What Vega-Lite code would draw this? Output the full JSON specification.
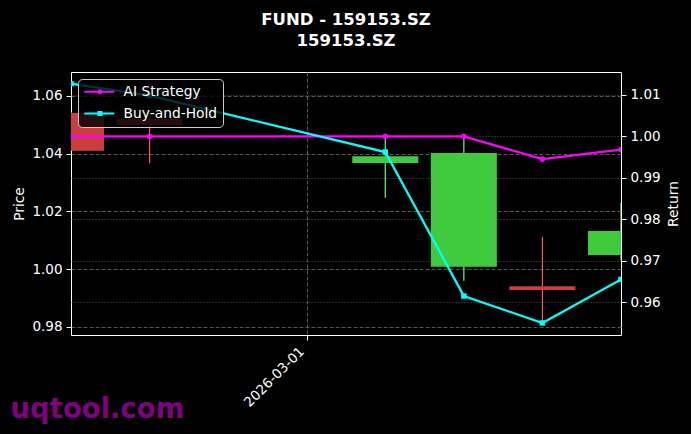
{
  "$schema": "https://vega.github.io/schema/vega-lite/v6.json",
  "width": 550,
  "height": 263,
  "autosize": {"type": "none"},
  "padding": {"left": 71, "top": 72, "right": 70, "bottom": 99},
  "background": "black",
  "title": {
    "text": ["FUND - 159153.SZ", "159153.SZ"],
    "color": "white",
    "font": "DejaVu Sans",
    "fontSize": 16.5,
    "fontWeight": "bold",
    "lineHeight": 21,
    "anchor": "middle",
    "offset": 23
  },
  "datasets": {
    "candles": [
      {"date": "2026-02-26", "open": 1.0541, "high": 1.0545, "low": 1.0410, "close": 1.0410},
      {"date": "2026-02-27", "open": 1.0520, "high": 1.0525, "low": 1.0367, "close": 1.0499},
      {"date": "2026-03-02", "open": 1.0368, "high": 1.0453, "low": 1.0247, "close": 1.0391},
      {"date": "2026-03-03", "open": 1.0008, "high": 1.0460, "low": 0.9960, "close": 1.0402},
      {"date": "2026-03-04", "open": 0.9941, "high": 1.0112, "low": 0.9812, "close": 0.9928},
      {"date": "2026-03-05", "open": 1.0049, "high": 1.0230, "low": 1.0030, "close": 1.0132}
    ],
    "returns": [
      {"date": "2026-02-26", "series": "AI Strategy", "value": 1.0000},
      {"date": "2026-02-27", "series": "AI Strategy", "value": 1.0000},
      {"date": "2026-03-02", "series": "AI Strategy", "value": 1.0000},
      {"date": "2026-03-03", "series": "AI Strategy", "value": 1.0000},
      {"date": "2026-03-04", "series": "AI Strategy", "value": 0.9945},
      {"date": "2026-03-05", "series": "AI Strategy", "value": 0.9968},
      {"date": "2026-02-26", "series": "Buy-and-Hold", "value": 1.0127},
      {"date": "2026-02-27", "series": "Buy-and-Hold", "value": 1.0098},
      {"date": "2026-03-02", "series": "Buy-and-Hold", "value": 0.9962},
      {"date": "2026-03-03", "series": "Buy-and-Hold", "value": 0.9615},
      {"date": "2026-03-04", "series": "Buy-and-Hold", "value": 0.9550},
      {"date": "2026-03-05", "series": "Buy-and-Hold", "value": 0.9655}
    ]
  },
  "encoding": {
    "x": {
      "field": "date",
      "type": "temporal",
      "scale": {
        "type": "utc",
        "padding": 0,
        "nice": false,
        "domain": [
          {"year": 2026, "month": 2, "date": 26, "utc": true},
          {"year": 2026, "month": 3, "date": 5, "utc": true}
        ]
      },
      "axis": {
        "values": [{"year": 2026, "month": 3, "date": 1, "utc": true}],
        "labelExpr": "utcFormat(datum.value, '%Y-%m-%d')",
        "labelAngle": -45,
        "labelAlign": "right",
        "labelBaseline": "middle",
        "labelPadding": 9,
        "labelOffset": -5,
        "labelColor": "white",
        "labelFontSize": 13.5,
        "tickColor": "white",
        "tickSize": 5,
        "domain": false,
        "grid": true,
        "gridColor": "#555555",
        "gridDash": [4, 2],
        "title": "uqtool.com",
        "titleColor": "#800080",
        "titleFontSize": 27.5,
        "titleFontWeight": "bold",
        "titleX": -61,
        "titleY": 82,
        "titleAlign": "left",
        "titleBaseline": "alphabetic"
      }
    }
  },
  "layer": [
    {
      "data": {"name": "candles"},
      "layer": [
        {
          "mark": {"type": "rule", "clip": true, "strokeWidth": 1.2},
          "encoding": {
            "y": {
              "field": "low",
              "type": "quantitative",
              "scale": {"domain": [0.9772, 1.0683], "nice": false, "zero": false},
              "axis": {
                "title": "Price",
                "values": [0.98, 1.0, 1.02, 1.04, 1.06],
                "format": ".2f",
                "labelColor": "white",
                "labelFontSize": 13.5,
                "labelPadding": 4,
                "titleColor": "white",
                "titleFontSize": 13.8,
                "titleFontWeight": "normal",
                "titlePadding": 5,
                "tickColor": "white",
                "tickSize": 5,
                "domain": false,
                "grid": true,
                "gridColor": "#555555",
                "gridDash": [4, 2]
              }
            },
            "y2": {"field": "high"},
            "color": {"condition": {"test": "datum.close >= datum.open", "value": "#66ff66"}, "value": "#ff5555"}
          }
        },
        {
          "mark": {"type": "bar", "clip": true, "size": 66},
          "encoding": {
            "y": {"field": "open", "type": "quantitative"},
            "y2": {"field": "close"},
            "color": {"condition": {"test": "datum.close >= datum.open", "value": "#3ecc3e"}, "value": "#cc3e3e"}
          }
        }
      ]
    },
    {
      "data": {"name": "returns"},
      "encoding": {
        "y": {
          "field": "value",
          "type": "quantitative",
          "scale": {"domain": [0.9521, 1.0155], "nice": false, "zero": false},
          "axis": {
            "orient": "right",
            "title": "Return",
            "values": [0.96, 0.97, 0.98, 0.99, 1.0, 1.01],
            "format": ".2f",
            "labelColor": "white",
            "labelFontSize": 13.5,
            "labelPadding": 4,
            "titleColor": "white",
            "titleFontSize": 13.8,
            "titleFontWeight": "normal",
            "titleAngle": 270,
            "titleBaseline": "top",
            "titlePadding": 6,
            "tickColor": "white",
            "tickSize": 5,
            "domain": false,
            "grid": true,
            "gridColor": "#555555",
            "gridDash": [1, 2]
          }
        }
      },
      "layer": [
        {
          "mark": {"type": "line", "clip": true, "strokeWidth": 2.3},
          "encoding": {
            "color": {
              "field": "series",
              "type": "nominal",
              "scale": {"domain": ["AI Strategy", "Buy-and-Hold"], "range": ["#ff00ff", "#00ffff"]},
              "legend": {
                "title": null,
                "orient": "top-left",
                "offset": 7,
                "padding": 5.8,
                "zindex": 1,
                "fillColor": "rgba(0,0,0,0.8)",
                "strokeColor": "#cccccc",
                "cornerRadius": 4,
                "labelColor": "white",
                "labelFontSize": 13.8,
                "labelOffset": 26,
                "rowPadding": 6.8,
                "symbolSize": 100,
                "encode": {
                  "symbols": {
                    "update": {
                      "shape": {"signal": "datum.value === 'AI Strategy' ? 'M-1.28,-0.2L4.72,-0.2L4.72,0.2L-1.28,0.2Z M1.34,0A0.5,0.5,0,1,1,2.34,0A0.5,0.5,0,1,1,1.34,0Z' : 'M-1.28,-0.2L4.72,-0.2L4.72,0.2L-1.28,0.2Z M1.34,-0.5L2.34,-0.5L2.34,0.5L1.34,0.5Z'"},
                      "fill": {"signal": "datum.value === 'AI Strategy' ? '#ff00ff' : '#00ffff'"},
                      "fillOpacity": {"value": 1},
                      "opacity": {"value": 1},
                      "strokeWidth": {"value": 0}
                    }
                  }
                }
              }
            }
          }
        },
        {
          "transform": [{"filter": "datum.series === 'AI Strategy'"}],
          "mark": {"type": "point", "clip": true, "filled": true, "shape": "circle", "size": 32, "opacity": 1, "color": "#ff00ff"}
        },
        {
          "transform": [{"filter": "datum.series === 'Buy-and-Hold'"}],
          "mark": {"type": "point", "clip": true, "filled": true, "shape": "square", "size": 30, "opacity": 1, "color": "#00ffff"}
        }
      ]
    }
  ],
  "resolve": {"scale": {"y": "independent"}},
  "config": {
    "font": "DejaVu Sans",
    "view": {"stroke": "white", "strokeWidth": 1}
  }
}
